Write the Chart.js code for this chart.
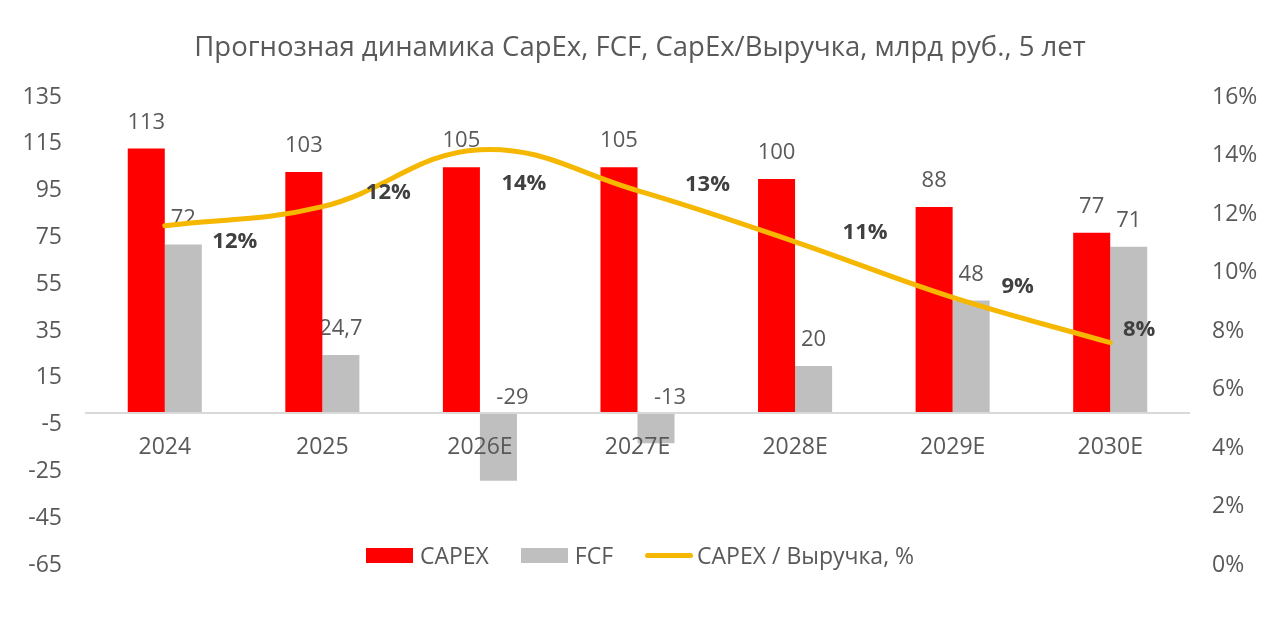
<!DOCTYPE html>
<html>
<head>
<meta charset="utf-8">
<script src="https://cdn.jsdelivr.net/npm/chart.js@4.4.0/dist/chart.umd.min.js"></script>
<style>
  html, body { margin: 0; padding: 0; background: #fff; }
  #wrap { position: relative; width: 1280px; height: 618px; }
  #legend {
    position: absolute; left: 0; right: 0; top: 540px; height: 30px;
    display: flex; justify-content: center; align-items: center;
    font-family: "Open Sans", sans-serif; font-size: 23px; color: #595959;
  }
  #legend .item { display: flex; align-items: center; margin: 0 16px; }
  #legend .box { width: 47px; height: 15px; margin-right: 7px; }
  #legend .ln { width: 48px; height: 5px; border-radius: 3px; margin-right: 4px; }
</style>
</head>
<body>
<div id="wrap">
  <canvas id="chart" width="1280" height="618"></canvas>
  <div id="legend"></div>
</div>
<script>
// chart data
const years = ["2024", "2025", "2026E", "2027E", "2028E", "2029E", "2030E"];
const capex = [113, 103, 105, 105, 100, 88, 77];
const fcf = [72, 24.7, -29, -13, 20, 48, 71];
const capexToRevenue = [11.6, 12.25, 14.2, 12.8, 11.05, 9.15, 7.6]; // %
const pctLabels = ["12%", "12%", "14%", "13%", "11%", "9%", "8%"];
const leftTicks = [-65, -45, -25, -5, 15, 35, 55, 75, 95, 115, 135];
const rightTicks = [0, 2, 4, 6, 8, 10, 12, 14, 16];

// where the bold % labels sit relative to the line point
const pctLabelShift = [[70, 16], [66, -14], [44, 34], [70, -6], [70, -9], [65, -11], [29, -13]];

const FONT = '"Open Sans", sans-serif';
const TEXT = "#595959";

const fmt = v => String(v).replace(".", ",");

// value labels on bars and line
const valueLabels = {
  id: "valueLabels",
  afterDatasetDraw(chart, args) {
    const ds = chart.data.datasets[args.index];
    if (ds.type !== "bar") return;
    const ctx = chart.ctx;
    const zeroY = chart.scales.y.getPixelForValue(0);
    ctx.save();
    ctx.font = "22px " + FONT;
    ctx.fillStyle = TEXT;
    ctx.textAlign = "center";
    ctx.textBaseline = "middle";
    args.meta.data.forEach((bar, i) => {
      const v = ds.data[i];
      // negative values are labelled just above the zero line, a bit to the right
      if (v >= 0) ctx.fillText(fmt(v), bar.x, bar.y - 26);
      else ctx.fillText(fmt(v), bar.x + 14, zeroY - 15);
    });
    ctx.restore();
  },
  afterDatasetsDraw(chart) {
    const ctx = chart.ctx;
    const meta = chart.getDatasetMeta(0);
    ctx.save();
    ctx.font = "bold 22px " + FONT;
    ctx.fillStyle = "#404040";
    ctx.textAlign = "center";
    ctx.textBaseline = "middle";
    meta.data.forEach((pt, i) => {
      ctx.fillText(pctLabels[i], pt.x + pctLabelShift[i][0], pt.y + pctLabelShift[i][1]);
    });
    ctx.restore();
  }
};

const chart = new Chart(document.getElementById("chart"), {
  data: {
    labels: years,
    datasets: [
      {
        type: "line",
        label: "CAPEX / Выручка, %",
        data: capexToRevenue,
        yAxisID: "y1",
        borderColor: "#f5b700",
        backgroundColor: "#f5b700",
        borderWidth: 5,
        borderCapStyle: "round",
        pointRadius: 0,
        tension: 0.4,
        order: 0
      },
      {
        type: "bar",
        label: "CAPEX",
        data: capex,
        yAxisID: "y",
        backgroundColor: "#ff0000",
        categoryPercentage: 0.47,
        barPercentage: 1,
        order: 1
      },
      {
        type: "bar",
        label: "FCF",
        data: fcf,
        yAxisID: "y",
        backgroundColor: "#bfbfbf",
        categoryPercentage: 0.47,
        barPercentage: 1,
        order: 1
      }
    ]
  },
  options: {
    responsive: false,
    animation: false,
    layout: { padding: { left: 0, right: 0, top: 0, bottom: 53 } },
    plugins: {
      legend: { display: false },
      tooltip: { enabled: false },
      title: {
        display: true,
        text: "Прогнозная динамика CapEx, FCF, CapEx/Выручка, млрд руб., 5 лет",
        color: TEXT,
        font: { family: FONT, size: 27.5, weight: "normal" },
        padding: { top: 32, bottom: 32 }
      }
    },
    scales: {
      x: {
        position: { y: 0 },
        grid: { display: false, drawTicks: false },
        border: { display: true, color: "#d9d9d9", width: 2, z: 1 },
        ticks: { z: 1, color: TEXT, font: { family: FONT, size: 23 }, padding: 21 }
      },
      y: {
        position: "left",
        min: -65,
        max: 135,
        grid: { display: false, drawTicks: false },
        border: { display: false },
        afterBuildTicks: axis => { axis.ticks = leftTicks.map(v => ({ value: v })); },
        afterFit: scale => { scale.width = 86; },
        ticks: { color: TEXT, font: { family: FONT, size: 23 }, padding: 24 }
      },
      y1: {
        position: "right",
        min: 0,
        max: 16,
        grid: { display: false, drawTicks: false },
        border: { display: false },
        afterBuildTicks: axis => { axis.ticks = rightTicks.map(v => ({ value: v })); },
        afterFit: scale => { scale.width = 91; },
        ticks: { color: TEXT, font: { family: FONT, size: 23 }, padding: 23, callback: v => v + "%" }
      }
    }
  },
  plugins: [valueLabels]
});

// legend built from the datasets
const legend = document.getElementById("legend");
[1, 2, 0].forEach(i => {
  const ds = chart.data.datasets[i];
  const item = document.createElement("div");
  item.className = "item";
  const mark = document.createElement("span");
  mark.className = ds.type === "line" ? "ln" : "box";
  mark.style.background = ds.type === "line" ? ds.borderColor : ds.backgroundColor;
  item.appendChild(mark);
  item.appendChild(document.createTextNode(ds.label));
  legend.appendChild(item);
});
</script>
</body>
</html>
